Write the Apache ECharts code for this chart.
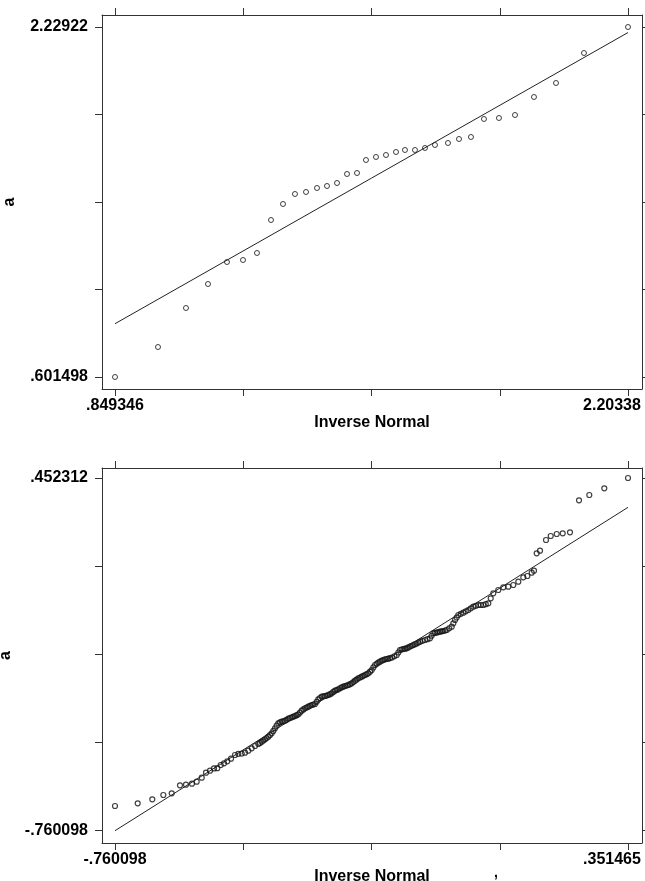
<!doctype html>
<html>
<head>
<meta charset="utf-8">
<title>qnorm a</title>
<style>
  html, body { margin: 0; padding: 0; background: #fff; }
  #main { width: 645px; height: 881px; }
</style>
</head>
<body>
<div id="main"></div>
<script src="https://cdn.jsdelivr.net/npm/echarts@6/dist/echarts.min.js"></script>
<script>
// ---- top panel: a vs inverse normal ----
var topX = [0.849346, 0.9628, 1.0367, 1.0948, 1.1449, 1.1872, 1.2241, 1.2611, 1.2928, 1.3244,
            1.3535, 1.3825, 1.4089, 1.4353, 1.4617, 1.4881, 1.5118, 1.5382, 1.5646, 1.5910,
            1.6147, 1.6411, 1.6675, 1.6939, 1.7282, 1.7573, 1.7889, 1.8232, 1.8628, 1.9051,
            1.9552, 2.0133, 2.0872, 2.20338];
var topY = [0.601498, 0.7410, 0.9224, 1.0340, 1.1363, 1.1456, 1.1782, 1.3317, 1.4061, 1.4526,
            1.4619, 1.4805, 1.4898, 1.5037, 1.5456, 1.5502, 1.6107, 1.6247, 1.6340, 1.6479,
            1.6572, 1.6572, 1.6665, 1.6805, 1.6898, 1.7084, 1.7177, 1.8014, 1.8060, 1.8200,
            1.9037, 1.9688, 2.1083, 2.22922];
var topTicksX = [0.849346, 1.1878545, 1.526363, 1.8648715, 2.20338];
var topTicksY = [0.601498, 1.0084285, 1.415359, 1.8222895, 2.22922];
var topLabelValsX = [0.849346, 2.20338];
var topLabelTextX = ['.849346', '2.20338'];
var topLabelValsY = [0.601498, 2.22922];
var topLabelTextY = ['.601498', '2.22922'];
var topRangeX = [0.81503, 2.24033];
var topRangeY = [0.54569, 2.28503];

// ---- bottom panel ----
var botX = [-0.760098, -0.7109, -0.6793, -0.6554, -0.6372,
  -0.6193, -0.6063, -0.5933, -0.5831, -0.5722, -0.5629, -0.5542, -0.5456, -0.5384, -0.5311,
  -0.5239, -0.5168, -0.5087, -0.5001, -0.4929, -0.4856, -0.4784, -0.4713, -0.4639, -0.4567,
  -0.4496, -0.4422, -0.4351, -0.4279, -0.4206, -0.4134, -0.4063, -0.3989, -0.3917, -0.3846,
  -0.3772, -0.3701, -0.3629, -0.3556, -0.3484, -0.3413, -0.3339, -0.3267, -0.3196, -0.3122,
  -0.3051, -0.2979, -0.2906, -0.2834, -0.2762, -0.2689, -0.2617, -0.2546, -0.2472, -0.2401,
  -0.2329, -0.2255, -0.2184, -0.2112, -0.2039, -0.1967, -0.1896, -0.1822, -0.1751, -0.1679,
  -0.1599, -0.1497, -0.1426, -0.1354, -0.1280, -0.1209, -0.1137, -0.1064, -0.0992, -0.0884,
  -0.0776, -0.0704, -0.0630, -0.0559, -0.0487, -0.0414, -0.0305, -0.0234, -0.0162, -0.0054,
  0.0054, 0.0163, 0.0271, 0.0379, 0.0488, 0.0540, 0.0596, 0.0704, 0.0813, 0.0921,
  0.1029, 0.1138, 0.1246, 0.1333, 0.1428, 0.1478,
  0.1536, 0.1608, 0.1738, 0.1840, 0.1970, 0.2100, 0.2258, 0.2453, 0.2676, 0.3001, 0.351465];
var botY = [-0.6752, -0.6659, -0.6522, -0.6374, -0.6315,
  -0.6040, -0.6020, -0.5985, -0.5917, -0.5779, -0.5607, -0.5538, -0.5460, -0.5450, -0.5342,
  -0.5284, -0.5215, -0.5126, -0.4999, -0.4960, -0.4950, -0.4920, -0.4851, -0.4768, -0.4689,
  -0.4621, -0.4541, -0.4459, -0.4370, -0.4253, -0.4081, -0.3909, -0.3854, -0.3820, -0.3751,
  -0.3703, -0.3658, -0.3600, -0.3476, -0.3393, -0.3338, -0.3280, -0.3246, -0.3084, -0.2995,
  -0.2971, -0.2936, -0.2878, -0.2788, -0.2740, -0.2671, -0.2627, -0.2592, -0.2534, -0.2445,
  -0.2362, -0.2307, -0.2249, -0.2190, -0.2077, -0.1905, -0.1826, -0.1757, -0.1709, -0.1688,
  -0.1647, -0.1561, -0.1389, -0.1355, -0.1331, -0.1269, -0.1217, -0.1166, -0.1104, -0.1045,
  -0.0987, -0.0815, -0.0788, -0.0760, -0.0736, -0.0702, -0.0588, -0.0358, -0.0186, -0.0107,
  -0.0014, 0.0099, 0.0158, 0.0158, 0.0216, 0.0388, 0.0560, 0.0673, 0.0766, 0.0787,
  0.0845, 0.0959, 0.1110, 0.1155, 0.1268, 0.1337,
  0.1935, 0.2024, 0.2392, 0.2530, 0.2598, 0.2622, 0.2657, 0.3757, 0.3939, 0.4169, 0.452312];
// further circles estimated inside the thick middle part of the band
var bandX = [-0.4459, -0.4387, -0.4315, -0.4243, -0.4170, -0.4098, -0.4026, -0.3953, -0.3881, -0.3809,
  -0.3736, -0.3665, -0.3592, -0.3520, -0.3448, -0.3376, -0.3303, -0.3231, -0.3159, -0.3086,
  -0.3015, -0.2942, -0.2870, -0.2798, -0.2725, -0.2653, -0.2581, -0.2509, -0.2436, -0.2365,
  -0.2292, -0.2220, -0.2148, -0.2075, -0.2003, -0.1931, -0.1859, -0.1786, -0.1715, -0.1639,
  -0.1548, -0.1461, -0.1390, -0.1317, -0.1245, -0.1173, -0.1100, -0.1028, -0.0938, -0.0830,
  -0.0740, -0.0667, -0.0595, -0.0523, -0.0450, -0.0360, -0.0270, -0.0198, -0.0108, 0.0000,
  0.0108, 0.0217, 0.0325, 0.0433];
var bandY = [-0.4585, -0.4500, -0.4418, -0.4315, -0.4170, -0.3990, -0.3880, -0.3838, -0.3788, -0.3727,
  -0.3680, -0.3630, -0.3540, -0.3432, -0.3366, -0.3310, -0.3262, -0.3170, -0.3040, -0.2983,
  -0.2955, -0.2908, -0.2832, -0.2765, -0.2705, -0.2650, -0.2610, -0.2565, -0.2490, -0.2405,
  -0.2335, -0.2278, -0.2220, -0.2135, -0.1990, -0.1865, -0.1790, -0.1733, -0.1698, -0.1668,
  -0.1605, -0.1475, -0.1372, -0.1343, -0.1300, -0.1243, -0.1190, -0.1135, -0.1075, -0.1016,
  -0.0900, -0.0801, -0.0774, -0.0748, -0.0719, -0.0645, -0.0473, -0.0272, -0.0147, -0.0060,
  0.0042, 0.0128, 0.0158, 0.0187];
var botTicksX = [-0.760098, -0.48220725, -0.2043165, 0.07357425, 0.351465];
var botTicksY = [-0.760098, -0.4569955, -0.153893, 0.1492095, 0.452312];
var botLabelValsX = [-0.760098, 0.351465];
var botLabelTextX = ['-.760098', '.351465'];
var botLabelValsY = [-0.760098, 0.452312];
var botLabelTextY = ['-.760098', '.452312'];
var botRangeX = [-0.78827, 0.38180];
var botRangeY = [-0.80238, 0.48669];

var frameColor = '#333';
var textStyle = { color: '#000', fontFamily: 'Liberation Sans, Arial, sans-serif', fontWeight: 'bold', fontSize: 16 };

function pairs(xs, ys) {
    var out = [];
    for (var i = 0; i < xs.length; i++) out.push([xs[i], ys[i]]);
    return out;
}

// label text for a tick value; the right-hand x label is pulled back inside the page
function lookup(vals, texts, pullLast) {
    return function (v) {
        for (var i = 0; i < vals.length; i++) {
            if (Math.abs(v - vals[i]) < 1e-6) {
                return (pullLast && i === vals.length - 1) ? '{m|' + texts[i] + '}' : texts[i];
            }
        }
        return '';
    };
}

function xAxes(g, range, ticks, lv, lt) {
    return [{
        type: 'value', gridIndex: g, position: 'bottom', min: range[0], max: range[1],
        axisLine: { show: true, onZero: false, lineStyle: { color: frameColor, width: 1 } },
        axisTick: { show: true, length: 7, customValues: ticks, lineStyle: { color: frameColor } },
        axisLabel: Object.assign({
            customValues: lv, formatter: lookup(lv, lt, true), margin: 9,
            rich: { m: Object.assign({ padding: [0, 32, 0, 0] }, textStyle) }
        }, textStyle),
        splitLine: { show: false },
        name: 'Inverse Normal', nameLocation: 'middle', nameGap: 22,
        nameTextStyle: textStyle
    }, {
        type: 'value', gridIndex: g, position: 'top', min: range[0], max: range[1],
        axisLine: { show: true, onZero: false, lineStyle: { color: frameColor, width: 1 } },
        axisTick: { show: true, length: 7, customValues: ticks, lineStyle: { color: frameColor } },
        axisLabel: { show: false },
        splitLine: { show: false }
    }];
}

function yAxes(g, range, ticks, lv, lt) {
    return [{
        type: 'value', gridIndex: g, position: 'left', min: range[0], max: range[1],
        axisLine: { show: true, onZero: false, lineStyle: { color: frameColor, width: 1 } },
        axisTick: { show: true, length: 7, customValues: ticks, lineStyle: { color: frameColor } },
        axisLabel: Object.assign({ customValues: lv, formatter: lookup(lv, lt, false), margin: 14 }, textStyle),
        splitLine: { show: false },
        name: 'a', nameLocation: 'middle', nameRotate: 90, nameGap: 84,
        nameTextStyle: textStyle
    }, {
        type: 'value', gridIndex: g, position: 'right', min: range[0], max: range[1],
        axisLine: { show: true, onZero: false, lineStyle: { color: frameColor, width: 1 } },
        axisTick: { show: true, length: 4, customValues: ticks, lineStyle: { color: frameColor } },
        axisLabel: { show: false },
        splitLine: { show: false }
    }];
}

var myChart = echarts.init(document.getElementById('main'));

myChart.setOption({
    animation: false,
    backgroundColor: '#fff',
    grid: [
        { left: 102, top: 15, width: 540, height: 374, containLabel: false, outerBoundsMode: 'none' },
        { left: 102, top: 468, width: 540, height: 375, containLabel: false, outerBoundsMode: 'none' }
    ],
    xAxis: xAxes(0, topRangeX, topTicksX, topLabelValsX, topLabelTextX)
        .concat(xAxes(1, botRangeX, botTicksX, botLabelValsX, botLabelTextX)),
    yAxis: yAxes(0, topRangeY, topTicksY, topLabelValsY, topLabelTextY)
        .concat(yAxes(1, botRangeY, botTicksY, botLabelValsY, botLabelTextY)),
    series: [{
        type: 'line', xAxisIndex: 0, yAxisIndex: 0,
        data: [[topX[0], topX[0]], [topX[topX.length - 1], topX[topX.length - 1]]],
        showSymbol: false, lineStyle: { color: '#222', width: 1 }, silent: true
    }, {
        type: 'scatter', xAxisIndex: 0, yAxisIndex: 0,
        data: pairs(topX, topY), symbol: 'circle', symbolSize: 5,
        itemStyle: { color: 'rgba(0,0,0,0)', borderColor: '#111', borderWidth: 1 }
    }, {
        type: 'line', xAxisIndex: 2, yAxisIndex: 2,
        data: [[botX[0], botX[0]], [botX[botX.length - 1], botX[botX.length - 1]]],
        showSymbol: false, lineStyle: { color: '#222', width: 1 }, silent: true
    }, {
        type: 'scatter', xAxisIndex: 2, yAxisIndex: 2,
        data: pairs(botX, botY).concat(pairs(bandX, bandY)), symbol: 'circle', symbolSize: 5,
        itemStyle: { color: 'rgba(0,0,0,0)', borderColor: '#111', borderWidth: 1.2 }
    }],
    graphic: [{
        type: 'text', left: 494, top: 866,
        style: { text: ',', fill: '#000', font: 'bold 14px Liberation Sans' }
    }]
});
</script>
</body>
</html>
